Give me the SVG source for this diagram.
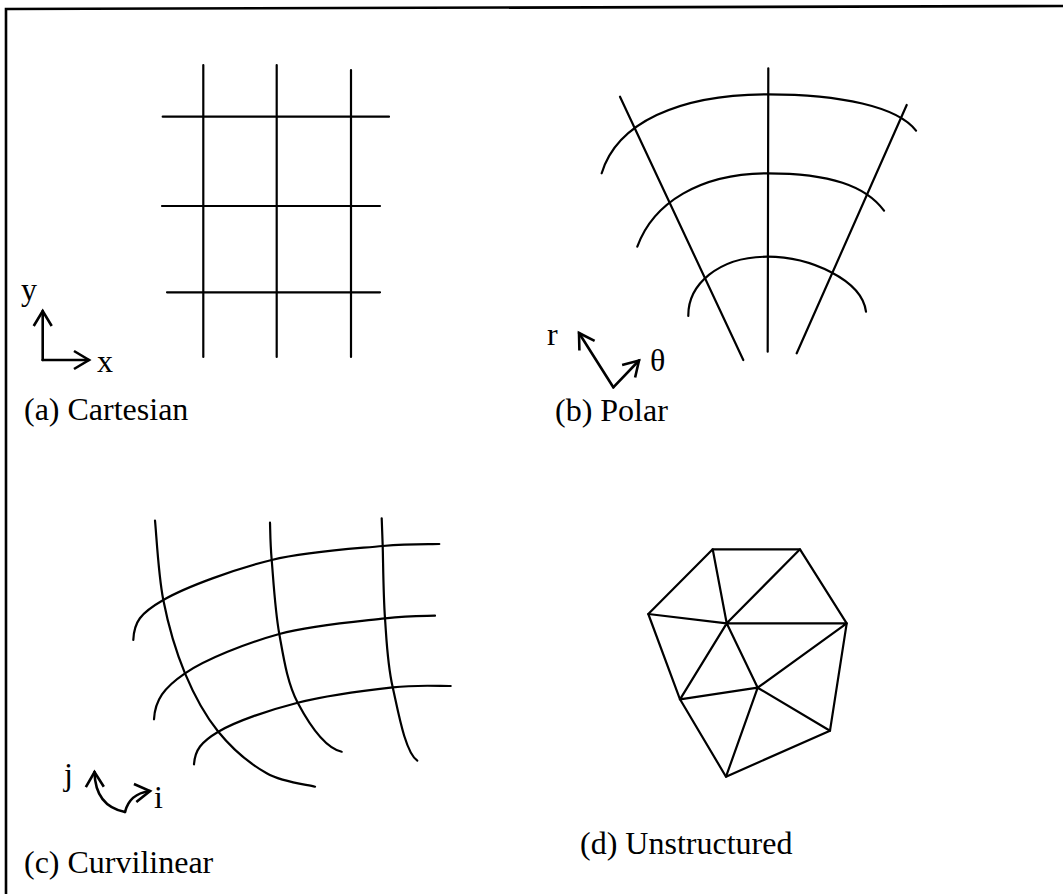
<svg xmlns="http://www.w3.org/2000/svg" width="1063" height="894" viewBox="0 0 1063 894">
<style>
.ln{fill:none;stroke:#000;stroke-width:2.2;stroke-linecap:round}
.ax{fill:none;stroke:#000;stroke-width:2.6;stroke-linecap:round}
.lbl{font-family:"Liberation Serif","Times New Roman",serif;font-size:32px;fill:#000}
</style>
<defs>
<marker id="ah" viewBox="0 0 17 20" refX="16" refY="10" markerWidth="17" markerHeight="20" markerUnits="userSpaceOnUse" orient="auto" overflow="visible">
<path d="M1,1 L16,10 L1,19" fill="none" stroke="#000" stroke-width="2.6" stroke-linejoin="miter"/>
</marker>
</defs>
<rect width="1063" height="894" fill="#fff"/>
<g id="frame">
<path class="ax" d="M6,894 L6,9 L1063,6"/>
</g>
<g id="cartesian">
<path class="ln" d="M203.3,65 V357 M276.7,65 V357 M351,70 V357 M162.7,116.7 H389 M162,206 H380 M167,292.3 H380"/>
<path class="ax" d="M42.7,360 V311" marker-end="url(#ah)"/>
<path class="ax" d="M42.7,360 H89" marker-end="url(#ah)"/>
<text class="lbl" x="21" y="300">y</text>
<text class="lbl" x="97" y="372">x</text>
<text class="lbl" x="24" y="420">(a) Cartesian</text>
</g>
<g id="polar">
<path class="ln" d="M620,96.7 L743.3,360 M768.3,68.3 L767.7,351.7 M906.7,105 L796.7,353.3"/>
<path class="ln" d="M601.7,173.3 C616.7,123.3 678,94.3 768,94.3 C840,94.3 898,106.7 916,130.7"/>
<path class="ln" d="M637.3,246.7 C653,203 700,173.3 767.7,173.3 C830,173.3 866,186 884,210.7"/>
<path class="ln" d="M688.3,316 C688,285 718,256.7 767.3,256.7 C810,256.7 862,280 866,311.7"/>
<path class="ax" d="M613.3,387.3 L579,333" marker-end="url(#ah)"/>
<path class="ax" d="M613.3,387.3 L639,360.5" marker-end="url(#ah)"/>
<text class="lbl" x="547" y="345">r</text>
<text class="lbl" x="650" y="371">θ</text>
<text class="lbl" x="555" y="421">(b) Polar</text>
</g>
<g id="curvilinear">
<path class="ln" d="M133.3,640 C134,622 140.2,613.3 163.3,600 C186.4,586.7 235.1,569 271.7,560 C308.3,551 354.8,548.7 382.7,546 C410.6,543.3 429.9,544.3 439.3,544"/>
<path class="ln" d="M154,719.3 C155,700 164.1,687.5 185,673.3 C205.9,659.1 246,643.2 279.3,634 C312.6,624.8 359,621.3 385,618.3 C411,615.3 426.7,616.1 435,615.7"/>
<path class="ln" d="M194,764.3 C195,750 201,742 218.3,731.7 C235.6,721.4 268.6,710.1 297.7,702.7 C326.8,695.3 367.2,690.1 392.7,687.3 C418.2,684.5 441,686.2 450.7,686"/>
<path class="ln" d="M155,520.7 C156.4,533.9 158.3,574.6 163.3,600 C168.3,625.4 175.8,651.3 185,673.3 C194.2,695.3 204.7,715 218.3,731.7 C231.9,748.4 250.6,764.1 266.7,773.3 C282.8,782.5 307,784.5 315,786.7"/>
<path class="ln" d="M270,522.7 C270.3,528.9 270.1,541.4 271.7,560 C273.3,578.6 275,610.2 279.3,634 C283.6,657.8 287.3,683.1 297.7,702.7 C308.1,722.3 325,748 341.7,751.7"/>
<path class="ln" d="M381.7,518.3 C381.9,522.9 382.1,529.3 382.7,546 C383.2,562.7 383.3,594.7 385,618.3 C386.7,641.9 387.3,663.6 392.7,687.3 C398.1,711 405,752 417.3,760.7"/>
<path class="ax" d="M125,812 C105,808 95,795 94.5,772" marker-end="url(#ah)"/>
<path class="ax" d="M125,812 C128,800 135,793 150,791" marker-end="url(#ah)"/>
<text class="lbl" x="64" y="785">j</text>
<text class="lbl" x="154" y="808">i</text>
<text class="lbl" x="24" y="873">(c) Curvilinear</text>
</g>
<g id="unstructured">
<path class="ln" stroke-linejoin="round" d="M712.7,549.3 L800,549.3 L846.7,623.3 L830,730.7 L726,776.7 L680,699.3 L648.3,614 Z"/>
<path class="ln" d="M712.7,549.3 L726.7,623.3 M800,549.3 L726.7,623.3 M648.3,614 L726.7,623.3 M726.7,623.3 L846.7,623.3 M726.7,623.3 L680,699.3 M726.7,623.3 L757.7,687.7 M680,699.3 L757.7,687.7 M757.7,687.7 L846.7,623.3 M757.7,687.7 L830,730.7 M757.7,687.7 L726,776.7"/>
<text class="lbl" x="580" y="854">(d) Unstructured</text>
</g>
</svg>
